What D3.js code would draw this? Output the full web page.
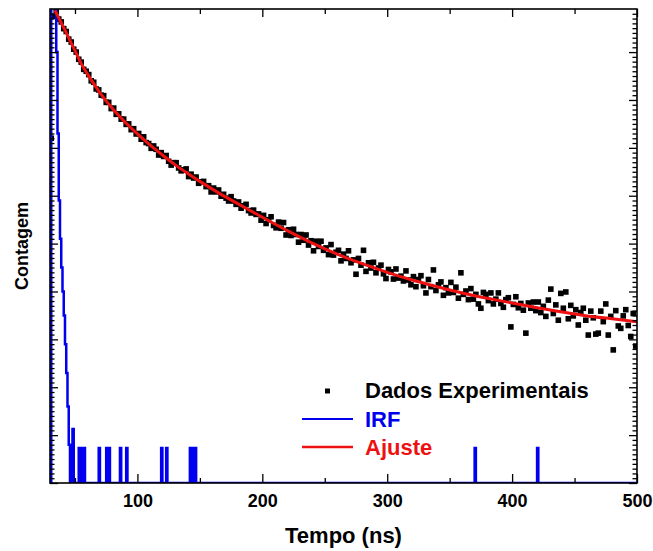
<!DOCTYPE html>
<html>
<head>
<meta charset="utf-8">
<script src="https://cdn.jsdelivr.net/npm/d3@7"></script>
<style>
  body { margin: 0; background: #fff; }
  text { font-family: Arial, "Liberation Sans", sans-serif; font-weight: bold; }
</style>
</head>
<body>
<div id="chart"></div>
<script>
// tick values
var xMajor = [100, 200, 300, 400, 500];
var xMinor = [50, 150, 250, 350, 450];
var yMajor = [0, 1, 2, 3, 4, 5, 6, 7, 8, 9];

// experimental counts, one value per 2 ns channel starting at 31 ns
var expStart = 31, expStep = 2;
var expValue = [
  7.20, 9.75, 9.84, 9.69, 9.63, 9.49, 9.43, 9.27, 9.21, 9.06, 9.00, 8.85, 8.79, 8.64, 8.60,
  8.53, 8.40, 8.37, 8.23, 8.21, 8.10, 8.09, 7.95, 7.95, 7.82, 7.83, 7.70, 7.71, 7.60, 7.60,
  7.49, 7.50, 7.38, 7.40, 7.29,
  7.30, 7.18, 7.23, 7.11, 7.09, 6.99, 7.04, 6.97, 6.85, 6.90, 6.82, 6.84, 6.72, 6.64, 6.69,
  6.69, 6.58, 6.52, 6.54, 6.56, 6.40, 6.45, 6.37, 6.39, 6.26, 6.29, 6.30, 6.19, 6.21, 6.08,
  6.16, 6.08, 6.12, 5.99, 6.03, 5.95, 5.89, 5.98, 5.89, 5.82, 5.87, 5.74, 5.79, 5.82, 5.69,
  5.64, 5.70, 5.61, 5.62, 5.49,
  5.59, 5.42, 5.50, 5.56, 5.38, 5.33, 5.45, 5.32, 5.44, 5.18, 5.29, 5.17, 5.30, 5.19, 5.03,
  5.19, 5.07, 5.18, 4.97, 5.06, 4.85, 5.05, 4.94, 5.05, 4.86, 4.91, 4.77, 4.98, 4.76, 4.82,
  4.86, 4.64, 4.78, 4.69, 4.85, 4.60, 4.66, 4.36, 4.69, 4.55, 4.86, 4.42, 4.60, 4.49, 4.61,
  4.39, 4.49, 4.55, 4.37, 4.27, 4.46, 4.41, 4.26, 4.47, 4.28, 4.32, 4.22, 4.43, 4.24, 4.14,
  4.31, 4.10, 4.25, 4.33, 4.12, 3.97, 4.25, 4.10, 4.45, 4.02, 4.14, 4.20, 3.92, 4.08, 3.97,
  4.19, 3.98, 4.09, 3.86, 4.39, 3.94, 4.01, 3.83, 4.06, 3.84, 3.94, 3.74, 3.65, 3.98, 3.94,
  3.81, 3.97, 3.74, 3.84, 3.97, 3.75, 3.67, 3.83, 3.87, 3.26, 3.73, 3.89, 3.66, 3.75, 3.61,
  3.13, 3.76, 3.65, 3.78, 3.60,
  3.78, 3.56, 3.69, 3.48, 3.82, 4.05, 3.54, 3.72, 3.40, 3.96, 3.65, 3.99, 3.43, 3.71, 3.49,
  3.62, 3.30, 3.56, 3.65, 3.40, 3.09, 3.59, 3.45, 3.11, 3.13, 3.59, 3.37, 3.74, 3.09, 3.48,
  2.78, 3.60, 3.28, 3.23, 3.49, 3.62, 3.29, 3.06, 3.54, 2.86
];

// fitted decay
var fitTime  = [34, 38, 42, 46, 50, 55, 60, 65, 70, 80, 90, 100, 110, 120, 130, 140, 150, 165, 180,
                200, 220, 240, 260, 280, 300, 320, 340, 360, 380, 400, 420, 440, 460, 480, 500];
var fitValue = [9.87, 9.66, 9.46, 9.24, 9.03, 8.76, 8.54, 8.34, 8.15, 7.82, 7.54, 7.29, 7.06, 6.85, 6.65,
                6.47, 6.30, 6.06, 5.84, 5.55, 5.27, 5.01, 4.78, 4.58, 4.40, 4.24, 4.10, 3.97, 3.86, 3.76,
                3.66, 3.57, 3.49, 3.43, 3.37];

// IRF, non-zero channels only (1 ns channels)
var irfTime  = [31, 32, 33, 34, 35, 36, 37, 38, 39, 40, 41, 42, 43, 44, 45, 48,
                53, 55, 57, 69, 75, 77, 86, 91, 119, 123, 142, 145, 146, 370, 420];
var irfValue = [9.95, 9.95, 9.95, 9.9, 9.0, 7.3, 5.9, 5.1, 4.5, 4.0, 3.5, 2.9, 2.3, 1.6, 0.8, 1.13,
                0.73, 0.73, 0.73, 0.73, 0.73, 0.73, 0.73, 0.73, 0.73, 0.73, 0.73, 0.73, 0.73, 0.73, 0.73];

var width = 653,
    height = 551;

var svg = d3.select("#chart")
      .append("svg")
      .attr("width", width)
      .attr("height", height);

var x = d3.scaleLinear().domain([30, 500]).range([50, 637]);
var y = d3.scaleLinear().domain([0, 9.9]).range([483, 9]);

svg.append("clipPath")
    .attr("id", "plot-clip")
  .append("rect")
    .attr("x", 50)
    .attr("y", 9)
    .attr("width", 587)
    .attr("height", 474);

var plot = svg.append("g").attr("clip-path", "url(#plot-clip)");

// experimental points
var expData = expValue.map(function(v, i){
  return {t: expStart + i * expStep, v: v};
});

plot.selectAll(".pt")
    .data(expData)
    .enter().append("rect")
    .attr("class", "pt")
    .attr("x", function(d){ return x(d.t) - 2.8; })
    .attr("y", function(d){ return y(d.v) - 2.8; })
    .attr("width", 5.6)
    .attr("height", 5.6)
    .attr("fill", "#000");

// IRF as channel table
var irfChannels = d3.range(30, 501).map(function(t){
  var k = irfTime.indexOf(t);
  return {t: t, v: k >= 0 ? irfValue[k] : 0};
});

plot.append("path")
    .datum(irfChannels)
    .attr("fill", "none")
    .attr("stroke", "#0000ee")
    .attr("stroke-width", 2.5)
    .attr("d", d3.line()
      .curve(d3.curveStepAfter)
      .x(function(d){ return x(d.t); })
      .y(function(d){ return y(d.v); }));

// fit line
var fitData = fitTime.map(function(t, i){ return {t: t, v: fitValue[i]}; });

plot.append("path")
    .datum(fitData)
    .attr("fill", "none")
    .attr("stroke", "#ee1111")
    .attr("stroke-width", 3)
    .attr("d", d3.line()
      .curve(d3.curveMonotoneX)
      .x(function(d){ return x(d.t); })
      .y(function(d){ return y(d.v); }));

// axes, ticks pointing inward
var yMinor = d3.range(0, 99).map(function(i){ return i / 10; })
  .filter(function(v){ return Math.round(v * 10) % 10 !== 0; });

function styleAxis(g){
  g.select(".domain").remove();
  g.selectAll(".tick line").attr("stroke", "#000").attr("stroke-width", 1.3);
}

svg.append("g")
    .attr("transform", "translate(0,483)")
    .call(d3.axisBottom(x).tickValues(xMajor).tickSize(-9).tickPadding(11).tickFormat(d3.format("d")))
    .call(styleAxis)
    .selectAll("text")
    .style("font-size", "18px")
    .style("fill", "#000");

svg.append("g")
    .attr("transform", "translate(0,483)")
    .call(d3.axisBottom(x).tickValues(xMinor).tickSize(-5).tickFormat(""))
    .call(styleAxis);

svg.append("g")
    .attr("transform", "translate(0,9)")
    .call(d3.axisTop(x).tickValues(xMajor).tickSize(-8).tickFormat(""))
    .call(styleAxis);

svg.append("g")
    .attr("transform", "translate(0,9)")
    .call(d3.axisTop(x).tickValues(xMinor).tickSize(-5).tickFormat(""))
    .call(styleAxis);

svg.append("g")
    .attr("transform", "translate(50,0)")
    .call(d3.axisLeft(y).tickValues(yMajor).tickSize(-8).tickFormat(""))
    .call(styleAxis);

svg.append("g")
    .attr("transform", "translate(50,0)")
    .call(d3.axisLeft(y).tickValues(yMinor).tickSize(-4.5).tickFormat(""))
    .call(styleAxis);

svg.append("g")
    .attr("transform", "translate(637,0)")
    .call(d3.axisRight(y).tickValues(yMajor).tickSize(-8).tickFormat(""))
    .call(styleAxis);

svg.append("g")
    .attr("transform", "translate(637,0)")
    .call(d3.axisRight(y).tickValues(yMinor).tickSize(-4.5).tickFormat(""))
    .call(styleAxis);

// frame
svg.append("rect")
    .attr("x", 50)
    .attr("y", 9)
    .attr("width", 587)
    .attr("height", 474)
    .attr("fill", "none")
    .attr("stroke", "#000")
    .attr("stroke-width", 1.6);

// axis titles
svg.append("text")
    .attr("x", 343.5)
    .attr("y", 543)
    .attr("text-anchor", "middle")
    .style("font-size", "22px")
    .text("Tempo (ns)");

svg.append("text")
    .attr("transform", "translate(28,246) rotate(-90)")
    .attr("text-anchor", "middle")
    .style("font-size", "18px")
    .text("Contagem");

// legend
var legend = svg.append("g");

legend.append("rect")
    .attr("x", 325)
    .attr("y", 388.5)
    .attr("width", 5)
    .attr("height", 5)
    .attr("fill", "#000");

legend.append("text")
    .attr("x", 365)
    .attr("y", 398)
    .style("font-size", "22px")
    .style("fill", "#000")
    .text("Dados Experimentais");

legend.append("line")
    .attr("x1", 302).attr("x2", 353)
    .attr("y1", 419).attr("y2", 419)
    .attr("stroke", "#0000ee")
    .attr("stroke-width", 2);

legend.append("text")
    .attr("x", 365)
    .attr("y", 427)
    .style("font-size", "22px")
    .style("fill", "#0000ee")
    .text("IRF");

legend.append("line")
    .attr("x1", 302).attr("x2", 353)
    .attr("y1", 447).attr("y2", 447)
    .attr("stroke", "#ee1111")
    .attr("stroke-width", 2.5);

legend.append("text")
    .attr("x", 365)
    .attr("y", 455)
    .style("font-size", "22px")
    .style("fill", "#ee1111")
    .text("Ajuste");
</script>
</body>
</html>
